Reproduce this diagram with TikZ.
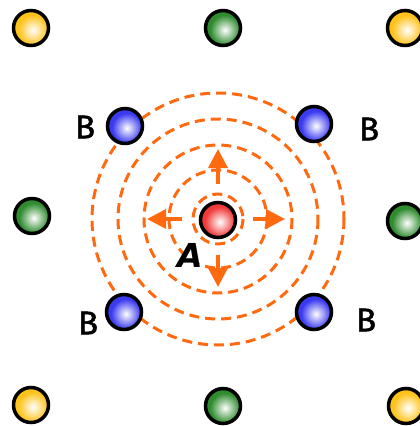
\documentclass[tikz,border=0pt]{standalone}
\usepackage{fontspec}
\setmainfont{DejaVu Sans}
\newfontfamily\labfont[FakeBold=1.6]{Fira Sans}
\usetikzlibrary{arrows.meta,calc}
\definecolor{myorange}{HTML}{FF6A10}
\definecolor{myyellow}{HTML}{FFC21A}
\definecolor{mygreen}{HTML}{2E8B2E}
\definecolor{myblue}{HTML}{3A3AF0}
\definecolor{myred}{HTML}{F03A3A}
\tikzset{
  ball/.style={circle, minimum size=35pt, inner sep=0pt, line width=3.5pt, draw=black,
    path picture={\fill[#1] (path picture bounding box.center) circle (20pt);
      \shade[inner color=white, outer color=#1]
      ([shift={(2,2)}]path picture bounding box.center) circle (15pt);}},
  ring/.style={draw=myorange, line width=3pt, dash pattern=on 10pt off 6pt},
  push/.style={draw=myorange, line width=3.5pt, -{Triangle[length=19pt,width=19pt]}},
  blab/.style={font=\labfont\fontsize{33}{33}\selectfont, inner sep=0pt},
  alab/.style={font=\bfseries\itshape\fontsize{33}{33}\selectfont, inner sep=0pt}
}
\begin{document}
\begin{tikzpicture}[x=1pt,y=-1pt]
\useasboundingbox (0,0) rectangle (420,426);
% rings
\coordinate (c) at (218,219);
\foreach \r in {25,49,74,100,126} \draw[ring] (c) circle (\r);
% balls
\node[ball=myyellow] (y1) at (31,28) {};
\node[ball=mygreen] (g1) at (223,28) {};
\node[ball=myyellow] (y2) at (405,28) {};
\node[ball=mygreen] (g2) at (32,216) {};
\node[ball=mygreen] (g3) at (405,221) {};
\node[ball=myyellow] (y3) at (31,405) {};
\node[ball=mygreen] (g4) at (223,406) {};
\node[ball=myyellow] (y4) at (406,406) {};
\node[ball=myblue] (b1) at (125,126) {};
\node[ball=myblue] (b2) at (314,124) {};
\node[ball=myblue] (b3) at (124,312) {};
\node[ball=myblue] (b4) at (314,312) {};
\node[ball=myred] (a) at (218,220) {};
% arrows
\coordinate (us) at (218,184); \coordinate (ue) at (218,149);
\coordinate (ds) at (218,255); \coordinate (de) at (218,287);
\coordinate (ls) at (182,219); \coordinate (le) at (147,219);
\coordinate (rs) at (253,219); \coordinate (re) at (285,219);
\draw[push] (us) -- (ue);
\draw[push] (ds) -- (de);
\draw[push] (ls) -- (le);
\draw[push] (rs) -- (re);
% labels
\node[blab] (lb1) at (85,127) {B};
\node[blab] (lb2) at (369,129) {B};
\node[blab] (lb3) at (88,323) {B};
\node[blab] (lb4) at (366,320) {B};
\node[alab] (la) at (190,255) {A};
\end{tikzpicture}
\end{document}
